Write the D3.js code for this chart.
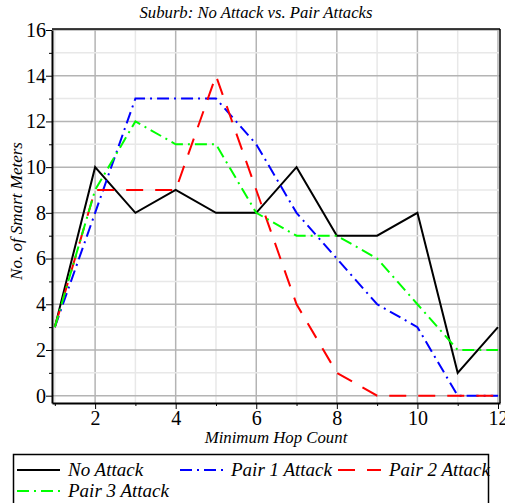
<!DOCTYPE html>
<meta charset="utf-8">
<script src="https://d3js.org/d3.v7.min.js"></script>
<style>
  body { margin: 0; background: #fff; }
  text { font-family: "Liberation Serif", "Times New Roman", serif; }
</style>
<div id="chart"></div>
<script>
// data
var hops = [1, 2, 3, 4, 5, 6, 7, 8, 9, 10, 11, 12];
var noAttack = [3, 10, 8, 9, 8, 8, 10, 7, 7, 8, 1, 3];
var pair1 = [3, 8, 13, 13, 13, 11, 8, 6, 4, 3, 0, 0];
var pair2 = [3, 9, 9, 9, 14, 9, 4, 1, 0, 0, 0, 0];
var pair3 = [3, 9, 12, 11, 11, 8, 7, 7, 6, 4, 2, 2];
var seriesNames = ["No Attack", "Pair 1 Attack", "Pair 2 Attack", "Pair 3 Attack"];
var xTicks = [2, 4, 6, 8, 10, 12];
var yTicks = [0, 2, 4, 6, 8, 10, 12, 14, 16];

var W = 505, H = 503;
var pLeft = 52, pRight = 500, pTop = 30, pBottom = 403;
var serif = "'Liberation Serif', 'Times New Roman', serif";

var svg = d3.select("#chart").append("svg")
  .attr("width", W).attr("height", H);

var x = d3.scaleLinear().domain([0.93, 12.05]).range([pLeft, pRight]);
var y = d3.scaleLinear().domain([-0.32, 16]).range([pBottom, pTop]);

// grid: light minor lines on odd values, darker on even
var g = svg.append("g");
d3.range(1, 13).forEach(function(v) {
  g.append("line")
    .attr("x1", x(v)).attr("x2", x(v)).attr("y1", pTop).attr("y2", pBottom)
    .attr("stroke", v % 2 ? "#e8e8e8" : "#b4b4b4").attr("stroke-width", 1.5);
});
d3.range(0, 17).forEach(function(v) {
  g.append("line")
    .attr("x1", pLeft).attr("x2", pRight).attr("y1", y(v)).attr("y2", y(v))
    .attr("stroke", v % 2 ? "#e8e8e8" : "#b4b4b4").attr("stroke-width", 1.5);
});

// frame
svg.append("line").attr("x1", pLeft).attr("x2", pRight).attr("y1", pTop - 1).attr("y2", pTop - 1)
  .attr("stroke", "#000").attr("stroke-width", 1.5);
svg.append("line").attr("x1", pRight).attr("x2", pRight).attr("y1", pTop - 1).attr("y2", pBottom)
  .attr("stroke", "#000").attr("stroke-width", 1.5);

// axes
var yAxis = svg.append("g").attr("transform", "translate(" + pLeft + ",0)")
  .call(d3.axisLeft(y).tickValues(d3.range(0, 17)).tickSize(5).tickSizeOuter(0)
    .tickFormat(function(d) { return yTicks.indexOf(d) >= 0 ? d : ""; }));
var xAxis = svg.append("g").attr("transform", "translate(0," + pBottom + ")")
  .call(d3.axisBottom(x).tickValues(hops).tickSize(5).tickSizeOuter(0)
    .tickFormat(function(d) { return xTicks.indexOf(d) >= 0 ? d : ""; }));
[yAxis, xAxis].forEach(function(a) {
  a.attr("font-size", null).attr("font-family", null);
  a.select(".domain").attr("stroke", "#000").attr("stroke-width", 2);
  a.selectAll(".tick line").attr("stroke", "#000");
  a.selectAll("text").attr("fill", "#000")
    .style("font-size", "20px").style("font-family", serif);
});
yAxis.selectAll(".tick line").attr("x2", function(d) { return d % 2 ? -3 : -6; });
xAxis.selectAll(".tick line").attr("y2", function(d) { return d % 2 ? 3 : 6; });
yAxis.selectAll("text").attr("x", -6);
xAxis.selectAll("text").attr("y", 8);

// lines
var data = [
  {name: seriesNames[0], values: noAttack, color: "#000000", dash: null},
  {name: seriesNames[1], values: pair1, color: "#0000ff", dash: "12,5,2,5"},
  {name: seriesNames[2], values: pair2, color: "#ff0000", dash: "17,12"},
  {name: seriesNames[3], values: pair3, color: "#00ff00", dash: "12,5,2,5"}
];
var line = d3.line()
  .x(function(d, i) { return x(hops[i]); })
  .y(function(d) { return y(d); });
svg.selectAll(".series").data(data).enter().append("path")
  .attr("class", "series")
  .attr("d", function(d) { return line(d.values); })
  .attr("fill", "none")
  .attr("stroke", function(d) { return d.color; })
  .attr("stroke-width", 2)
  .attr("stroke-dasharray", function(d) { return d.dash; });

// titles
svg.append("text").attr("x", 256).attr("y", 18).attr("text-anchor", "middle")
  .style("font-style", "italic").style("font-size", "16.7px").text("Suburb: No Attack vs. Pair Attacks");
svg.append("text").attr("x", 276).attr("y", 443).attr("text-anchor", "middle")
  .style("font-style", "italic").style("font-size", "16.8px").text("Minimum Hop Count");
svg.append("text").attr("transform", "translate(22,211) rotate(-90)").attr("text-anchor", "middle")
  .style("font-style", "italic").style("font-size", "17px").text("No. of Smart Meters");

// legend
svg.append("rect").attr("x", 13.5).attr("y", 454.5).attr("width", 475).attr("height", 60)
  .attr("fill", "none").attr("stroke", "#000").attr("stroke-width", 1.5);
var legPos = [[17, 470], [180, 470], [338, 470], [17, 491]];
var leg = svg.selectAll(".leg").data(data).enter().append("g")
  .attr("transform", function(d, i) { return "translate(" + legPos[i][0] + "," + legPos[i][1] + ")"; });
leg.append("line").attr("x1", 0).attr("x2", 43).attr("y1", 0).attr("y2", 0)
  .attr("stroke", function(d) { return d.color; }).attr("stroke-width", 2)
  .attr("stroke-dasharray", function(d) { return d.dash; });
leg.append("text").attr("x", 51).attr("y", 6)
  .style("font-style", "italic").style("font-size", "19px")
  .text(function(d) { return d.name; });
</script>
